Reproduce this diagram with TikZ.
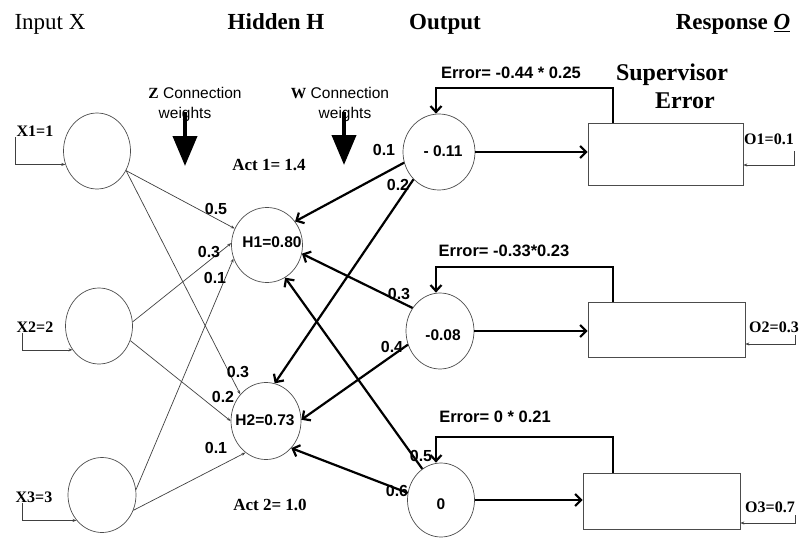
\documentclass[tikz,border=0pt]{standalone}
\usepackage{fontspec}
\setmainfont{Liberation Serif}
\setsansfont{Liberation Sans}
\usetikzlibrary{arrows.meta,shapes.geometric}
\begin{document}
\begin{tikzpicture}[x=1pt,y=-1pt,
  neuron/.style={ellipse, draw=black!70, line width=0.7pt, minimum width=67pt, minimum height=76pt, inner sep=0pt},
  ntext/.style={font=\sffamily\bfseries\fontsize{15.5}{16}\selectfont, inner sep=0pt},
  wt/.style={font=\sffamily\bfseries\fontsize{16}{16}\selectfont, inner sep=0pt},
  errlbl/.style={font=\sffamily\bfseries\fontsize{16.5}{17}\selectfont, inner sep=0pt},
  serlbl/.style={font=\rmfamily\bfseries\fontsize{16}{16}\selectfont, inner sep=0pt},
  ttl/.style={font=\rmfamily\fontsize{23}{24}\selectfont, inner sep=0pt, anchor=base},
  bttl/.style={ttl, font=\rmfamily\bfseries\fontsize{23}{24}\selectfont},
  box/.style={rectangle, draw=black!70, line width=0.7pt, inner sep=0pt},
  zline/.style={draw=black!75, line width=0.7pt, -{Stealth[length=4pt,width=3pt]}},
  wline/.style={draw=black, line width=2.2pt, -{Straight Barb[length=6pt,width=12pt]}},
  fb/.style={draw=black, line width=2.2pt, -{Straight Barb[length=6pt,width=11pt]}},
  brk/.style={draw=black!75, line width=0.7pt, -{Stealth[length=4pt,width=3pt]}},
  bigarrow/.style={draw=black, line width=4pt, -{Triangle[length=30pt,width=24pt]}}
]
\useasboundingbox (0,0) rectangle (804,538);

% titles
\node[ttl] (tin) at (50,30) {Input X};
\node[bttl] (thid) at (276,30) {Hidden H};
\node[bttl] (tout) at (445,30) {Output};
\node[bttl] (tresp) at (733,30) {Response \underline{\textit{O}}};

% big arrows and their captions
\coordinate (za) at (185,112);
\coordinate (zb) at (185,166);
\coordinate (wa) at (344,112);
\coordinate (wb) at (344,165);
\draw[bigarrow] (za) -- (zb);
\draw[bigarrow] (wa) -- (wb);
\node[font=\sffamily\fontsize{15.5}{16}\selectfont, inner sep=0pt] (zc) at (195,93) {{\rmfamily\bfseries Z} Connection};
\node[font=\sffamily\fontsize{15.5}{16}\selectfont, inner sep=0pt] (zw) at (185,114) {weights};
\node[font=\sffamily\fontsize{15.5}{16}\selectfont, inner sep=0pt] (wc) at (340,93) {{\rmfamily\bfseries W} Connection};
\node[font=\sffamily\fontsize{15.5}{16}\selectfont, inner sep=0pt] (ww) at (345,114) {weights};

% neurons
\node[neuron] (x1) at (97,151) {};
\node[neuron] (x2) at (99,326) {};
\node[neuron, minimum width=68pt, minimum height=75pt] (x3) at (102,495) {};
\node[neuron, minimum width=71pt, minimum height=75pt] (h1) at (267,245) {};
\node[neuron, minimum width=70pt, minimum height=77pt] (h2) at (266,421) {};
\node[neuron, minimum width=72pt] (o1) at (439,152) {};
\node[neuron, minimum width=68pt] (o2) at (440,331) {};
\node[neuron, minimum width=67pt, minimum height=74pt] (o3) at (441,500) {};

\node[ntext] (h1t) at (272,242) {H1=0.80};
\node[ntext] (h2t) at (265,420) {H2=0.73};
\node[ntext] (o1t) at (443,151) {- 0.11};
\node[ntext] (o2t) at (443,335) {-0.08};
\node[ntext] (o3t) at (441,504) {0};

\node[font=\rmfamily\bfseries\fontsize{17}{18}\selectfont, inner sep=0pt] (act1) at (269,165) {Act 1= 1.4};
\node[font=\rmfamily\bfseries\fontsize{17}{18}\selectfont, inner sep=0pt] (act2) at (270,505) {Act 2= 1.0};

% supervisor boxes
\node[box, minimum width=155pt, minimum height=62pt] (b1) at (665.5,154) {};
\node[box, minimum width=157pt, minimum height=55pt] (b2) at (666.5,329.5) {};
\node[box, minimum width=157pt, minimum height=56pt] (b3) at (661.5,501) {};

\node[font=\rmfamily\bfseries\fontsize{24}{24}\selectfont, inner sep=0pt] (sup1) at (672,75) {Supervisor};
\node[font=\rmfamily\bfseries\fontsize{24}{24}\selectfont, inner sep=0pt] (sup2) at (685,101) {Error};

% input -> hidden
\draw[zline] (x1.-34) -- (h1.153);
\draw[zline] (x1.-34) -- (h2.134);
\draw[zline] (x2.7) -- (h1.177);
\draw[zline] (x2.-25) -- (h2.180);
\draw[zline] (x3.9) -- (h1.202);
\draw[zline] (x3.-26) -- (h2.237);

\node[wt] (z11) at (216,209) {0.5};
\node[wt] (z21) at (209,252) {0.3};
\node[wt] (z31) at (215,278) {0.1};
\node[wt] (z12) at (238,372) {0.3};
\node[wt] (z22) at (223,397) {0.2};
\node[wt] (z32) at (216,448) {0.1};

% output -> hidden
\draw[wline] (o1.197) -- (h1.40);
\draw[wline] (o1.227) -- (h2.77);
\draw[wline] (o2.140) -- (h1.-14);
\draw[wline] (o2.203) -- (h2.2);
\draw[wline] (o3.121) -- (h1.-61);
\draw[wline] (o3.168) -- (h2.-47);

\node[wt] (w11) at (384,150) {0.1};
\node[wt] (w12) at (398,185) {0.2};
\node[wt] (w21) at (399,294) {0.3};
\node[wt] (w22) at (392,347) {0.4};
\node[wt] (w31) at (421,456) {0.5};
\node[wt] (w32) at (397,491) {0.6};

% output -> box
\draw[wline] (o1.east) -- (o1.east -| b1.west);
\draw[wline] (o2.east) -- (o2.east -| b2.west);
\draw[wline] (o3.east) -- (o3.east -| b3.west);

% error feedback
\draw[fb] ([xshift=25pt]b1.north west) -- ++(0,-35) -| ([xshift=-3pt]o1.north);
\draw[fb] ([xshift=25pt]b2.north west) -- ++(0,-35) -| ([xshift=-4pt]o2.north);
\draw[fb] ([xshift=30pt]b3.north west) -- ++(0,-36) -| ([xshift=-5pt]o3.north);

\node[errlbl] (e1) at (511,73) {Error= -0.44 * 0.25};
\node[errlbl] (e2) at (504,251) {Error= -0.33*0.23};
\node[errlbl] (e3) at (495,417) {Error= 0 * 0.21};

% input brackets
\node[serlbl] (lx1) at (35,131) {X1=1};
\node[serlbl] (lx2) at (35,327) {X2=2};
\node[serlbl] (lx3) at (34,497) {X3=3};
\coordinate (x1a) at (15,137);
\coordinate (x2a) at (22,333);
\coordinate (x3a) at (22,503);
\draw[brk] (x1a) |- (x1.203);
\draw[brk] (x2a) |- (x2.222);
\draw[brk] (x3a) |- (x3.225);

% output brackets
\node[serlbl] (lo1) at (769,139) {O1=0.1};
\node[serlbl] (lo2) at (774,327) {O2=0.3};
\node[serlbl] (lo3) at (770,507) {O3=0.7};
\coordinate (o1a) at (794,151);
\coordinate (o2a) at (795,335);
\coordinate (o3a) at (795,515);
\draw[brk] (o1a) |- ([yshift=-11pt]b1.east);
\draw[brk] (o2a) |- ([yshift=-14.5pt]b2.east);
\draw[brk] (o3a) |- ([yshift=-22pt]b3.east);
\end{tikzpicture}
\end{document}
